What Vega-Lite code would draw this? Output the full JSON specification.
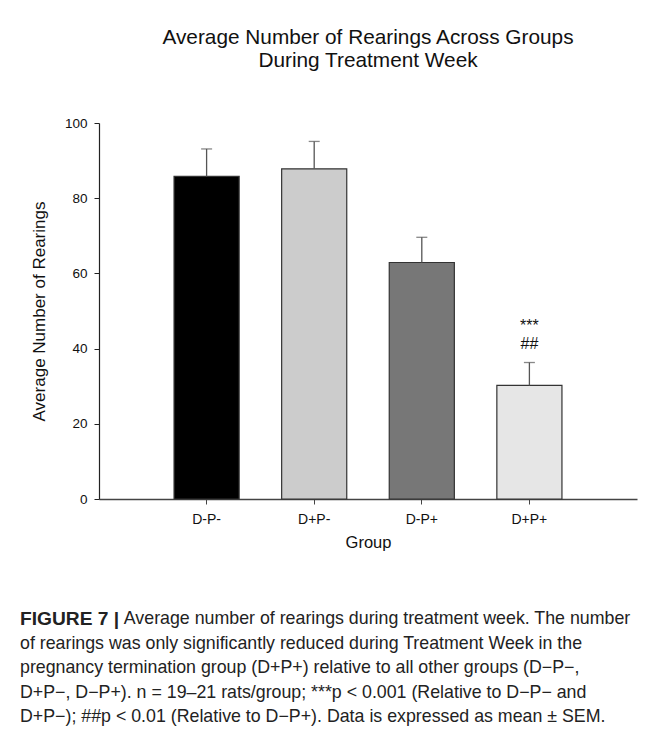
{
  "$schema": "https://vega.github.io/schema/vega-lite/v6.json",
  "background": "white",
  "padding": {"top": 27, "left": 20, "right": 5, "bottom": 5},
  "bounds": "flush",
  "spacing": 108,
  "config": {
    "font": "Liberation Sans",
    "view": {"stroke": null},
    "axis": {"grid": false, "titleFontWeight": "normal", "titleColor": "#111", "labelColor": "#111"}
  },
  "vconcat": [
    {
      "width": 538,
      "height": 376,
      "title": {
        "text": ["Average Number of Rearings Across Groups", "During Treatment Week"],
        "fontSize": 20.8,
        "fontWeight": "normal",
        "lineHeight": 23,
        "offset": 44,
        "color": "#111"
      },
      "data": {
        "values": [
          {"group": "D-P-", "mean": 85.8, "upper": 93.1},
          {"group": "D+P-", "mean": 87.8, "upper": 95.1},
          {"group": "D-P+", "mean": 62.9, "upper": 69.6},
          {"group": "D+P+", "mean": 30.2, "upper": 36.3}
        ]
      },
      "layer": [
        {
          "mark": {"type": "bar", "stroke": "#333", "strokeWidth": 1.2},
          "encoding": {
            "x": {
              "field": "group", "type": "nominal", "sort": null, "title": "Group",
              "scale": {"paddingInner": 0.395, "paddingOuter": 0.6975},
              "axis": {"labelAngle": 0, "labelFontSize": 14, "tickSize": 5, "labelPadding": 8, "titleFontSize": 16.5, "titlePadding": 8, "domainColor": "#444", "tickColor": "#444", "domainWidth": 1.3}
            },
            "y": {
              "field": "mean", "type": "quantitative", "title": "Average Number of Rearings",
              "scale": {"domain": [0, 100], "nice": false},
              "axis": {"values": [0, 20, 40, 60, 80, 100], "labelFontSize": 13.5, "tickSize": 5, "labelPadding": 7, "titleFontSize": 17, "titlePadding": 16, "domainColor": "#222", "tickColor": "#222", "domainWidth": 1.2}
            },
            "color": {
              "field": "group", "type": "nominal",
              "scale": {"domain": ["D-P-", "D+P-", "D-P+", "D+P+"], "range": ["#000000", "#cccccc", "#777777", "#e6e6e6"]},
              "legend": null
            }
          }
        },
        {
          "mark": {"type": "rule", "color": "#555", "strokeWidth": 1.3},
          "encoding": {
            "x": {"field": "group", "type": "nominal", "sort": null},
            "y": {"field": "mean", "type": "quantitative"},
            "y2": {"field": "upper"}
          }
        },
        {
          "mark": {"type": "tick", "color": "#555", "thickness": 1.3, "size": 11},
          "encoding": {
            "x": {"field": "group", "type": "nominal", "sort": null},
            "y": {"field": "upper", "type": "quantitative"}
          }
        },
        {
          "data": {"values": [{"group": "D+P+", "label": ["***", "##"], "pos": 44.7}]},
          "mark": {"type": "text", "fontSize": 16, "lineHeight": 18, "baseline": "alphabetic", "color": "#111"},
          "encoding": {
            "x": {"field": "group", "type": "nominal", "sort": null},
            "y": {"field": "pos", "type": "quantitative"},
            "text": {"field": "label"}
          }
        }
      ]
    },
    {
      "width": 538,
      "height": 122.5,
      "data": {
        "values": [
          {"line": 1, "start": 0.193, "text": "Average number of rearings during treatment week. The number"},
          {"line": 2, "start": 0, "text": "of rearings was only significantly reduced during Treatment Week in the"},
          {"line": 3, "start": 0, "text": "pregnancy termination group (D+P+) relative to all other groups (D−P−,"},
          {"line": 4, "start": 0, "text": "D+P−, D−P+). n = 19–21 rats/group; ***p < 0.001 (Relative to D−P− and"},
          {"line": 5, "start": 0, "text": "D+P−); ##p < 0.01 (Relative to D−P+). Data is expressed as mean ± SEM."}
        ]
      },
      "layer": [
        {
          "mark": {"type": "text", "align": "left", "baseline": "middle", "fontSize": 17.8, "color": "#222", "dx": -79},
          "encoding": {
            "x": {"field": "start", "type": "quantitative", "scale": {"domain": [0, 1], "nice": false}, "axis": null},
            "y": {"field": "line", "type": "ordinal", "axis": null},
            "text": {"field": "text"}
          }
        },
        {
          "data": {"values": [{"line": 1, "start": 0, "text": "FIGURE 7 |"}]},
          "mark": {"type": "text", "align": "left", "baseline": "middle", "fontSize": 19.2, "fontWeight": "bold", "color": "#222", "dx": -79},
          "encoding": {
            "x": {"field": "start", "type": "quantitative", "axis": null},
            "y": {"field": "line", "type": "ordinal", "axis": null},
            "text": {"field": "text"}
          }
        }
      ]
    }
  ]
}
